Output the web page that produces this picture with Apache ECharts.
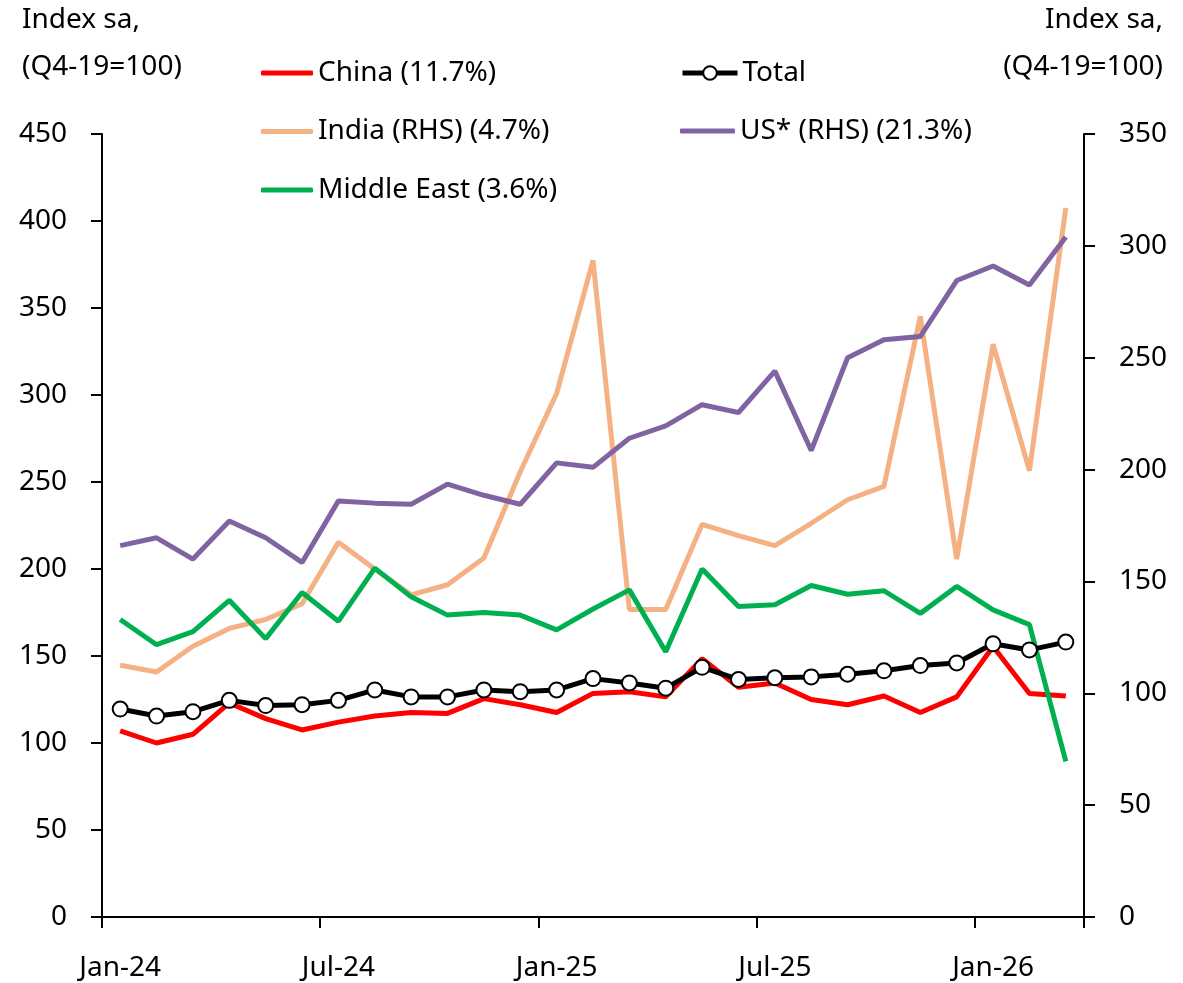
<!DOCTYPE html>
<html>
<head>
<meta charset="utf-8">
<script src="https://cdn.jsdelivr.net/npm/echarts@6/dist/echarts.min.js"></script>
<style>
  html, body { margin: 0; padding: 0; background: #fff; }
  #chart { width: 1183px; height: 983px; }
</style>
</head>
<body>
<div id="chart"></div>
<script>
// months on the x axis
const categories = [
  'Jan-24', 'Feb-24', 'Mar-24', 'Apr-24', 'May-24', 'Jun-24', 'Jul-24', 'Aug-24', 'Sep-24',
  'Oct-24', 'Nov-24', 'Dec-24', 'Jan-25', 'Feb-25', 'Mar-25', 'Apr-25', 'May-25', 'Jun-25',
  'Jul-25', 'Aug-25', 'Sep-25', 'Oct-25', 'Nov-25', 'Dec-25', 'Jan-26', 'Feb-26', 'Mar-26'
]

// left axis series
const china = [107, 100, 105, 123, 114, 107.5, 112, 115.5, 117.5, 117, 125.5, 122, 117.5, 128.5,
  129.5, 126.5, 148.5, 132, 134.5, 125, 122, 127, 117.5, 126.5, 155.5, 128.5, 127]
const total = [119.5, 115.5, 118, 124.5, 121.5, 122, 124.5, 130.5, 126.5, 126.5, 130.5, 129.5, 130.5, 137,
  134.5, 131.5, 143.5, 136.5, 137.5, 138, 139.5, 141.5, 144.5, 146, 157, 153.5, 158]
const middleEast = [171, 156.5, 164, 182, 160, 186.5, 170, 200.5, 184, 173.5, 175, 173.5, 165, 177,
  188, 152.5, 200, 178.5, 179.5, 190.5, 185.5, 187.5, 174.5, 190, 176.5, 168, 89.5]

// right axis series
const india = [112.5, 109.5, 121, 129, 133, 140, 167.5, 155.5, 144, 148.5, 160.5, 199, 234, 293.5,
  137.5, 137.5, 175.5, 170.5, 166, 176, 186.5, 192.5, 268.5, 160, 256, 199.5, 317]
const us = [166, 169.5, 160, 177, 169.5, 158.5, 186, 185, 184.5, 193.5, 188.5, 184.5, 203, 201,
  214, 219.5, 229, 225.5, 244, 208.5, 250, 258, 259.5, 284.5, 291, 282.5, 304]

// axis ranges
const leftMax = 450
const rightMax = 350
const tickStep = 50

const FONT = 'Noto Sans'
const FS = 28

function axisName(text, x, y, align) {
  return {
    type: 'text',
    x: x,
    y: y,
    style: { text: text, font: FS + 'px "' + FONT + '"', fill: '#000', align: align, verticalAlign: 'middle' }
  }
}

function lineSeries(name, data, color, yIndex) {
  return {
    name: name,
    type: 'line',
    yAxisIndex: yIndex,
    data: data,
    symbol: 'none',
    lineStyle: { color: color, width: 5 },
    itemStyle: { color: color },
    emphasis: { disabled: true }
  }
}

const valueAxis = (max, pos) => ({
  type: 'value',
  position: pos,
  min: 0,
  max: max,
  interval: tickStep,
  splitLine: { show: false },
  axisLine: { show: true, lineStyle: { color: '#000', width: 2 } },
  axisTick: { show: true, inside: false, length: 11, lineStyle: { color: '#000', width: 2 } },
  axisLabel: { color: '#000', fontSize: FS, fontFamily: FONT, margin: 35 }
})

const legendText = { color: '#000', fontSize: FS, fontFamily: FONT, lineHeight: 30 }

// plain thick line legend entries
function lineLegend(names, left, top, width) {
  return {
    data: names,
    orient: 'vertical',
    left: left,
    top: top,
    padding: 0,
    icon: 'roundRect',
    itemWidth: width,
    itemHeight: 5,
    itemGap: 28.5,
    textStyle: legendText,
    selectedMode: false
  }
}

let option = {
  animation: false,
  backgroundColor: '#fff',
  graphic: [
    axisName('Index sa,', 22, 20, 'left'),
    axisName('(Q4-19=100)', 22, 67, 'left'),
    axisName('Index sa,', 1163, 20, 'right'),
    axisName('(Q4-19=100)', 1163, 67, 'right')
  ],
  legend: [
    lineLegend(['China (11.7%)', 'India (RHS) (4.7%)', 'Middle East (3.6%)'], 261, 58, 52),
    lineLegend(['US* (RHS) (21.3%)'], 680, 116, 55),
    {
      data: ['Total'],
      left: 680,
      top: 58,
      padding: 0,
      itemWidth: 55,
      itemHeight: 17,
      textStyle: legendText,
      lineStyle: { width: 5, color: '#000' },
      selectedMode: false
    }
  ],
  grid: {
    left: 102,
    right: 99,
    top: 134,
    bottom: 66
  },
  xAxis: {
    type: 'category',
    boundaryGap: true,
    data: categories,
    axisLine: { show: true, onZero: false, lineStyle: { color: '#000', width: 2 } },
    axisTick: { show: true, interval: 5, length: 11, lineStyle: { color: '#000', width: 2 } },
    axisLabel: { interval: 5, color: '#000', fontSize: FS, fontFamily: FONT, margin: 37 }
  },
  yAxis: [valueAxis(leftMax, 'left'), valueAxis(rightMax, 'right')],
  series: [
    lineSeries('India (RHS) (4.7%)', india, '#F4B183', 1),
    lineSeries('US* (RHS) (21.3%)', us, '#8064A2', 1),
    lineSeries('China (11.7%)', china, '#FF0000', 0),
    lineSeries('Middle East (3.6%)', middleEast, '#00B050', 0),
    {
      name: 'Total',
      type: 'line',
      yAxisIndex: 0,
      data: total,
      symbol: 'circle',
      symbolSize: 15,
      lineStyle: { color: '#000', width: 5 },
      itemStyle: { color: '#fff', borderColor: '#000', borderWidth: 2 },
      emphasis: { disabled: true }
    }
  ]
}

function draw(option) {
  var myChart = echarts.init(document.getElementById('chart'))
  myChart.setOption(option)
}

draw(option)
</script>
</body>
</html>
